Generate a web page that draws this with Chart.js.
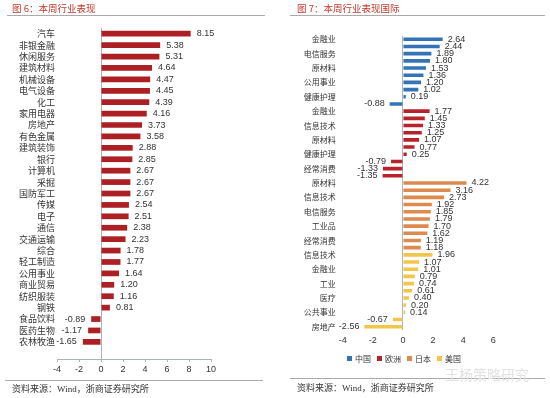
<!DOCTYPE html>
<html lang="zh">
<head>
<meta charset="UTF-8">
<title>本周行业表现</title>
<script src="https://cdn.jsdelivr.net/npm/chart.js@4.4.1/dist/chart.umd.min.js"></script>
<style>
    body { margin: 0; background: #fff; }
    #page { position: relative; width: 550px; height: 398px; overflow: hidden; font-family: "Noto Sans CJK SC", sans-serif; }
    canvas { position: absolute; top: 0; }
    .title { position: absolute; top: 1px; font-size: 9.5px; color: #c0392b; white-space: nowrap; }
    .rule { position: absolute; height: 1px; background: #aaa; }
    .source { position: absolute; font-size: 9px; color: #333; white-space: nowrap; }
    .source b { font-family: "Liberation Serif", serif; font-weight: normal; }
    #legend { position: absolute; top: 353px; left: 347px; font-size: 8px; color: #333; white-space: nowrap; }
    #legend span { display: inline-block; margin-right: 6px; }
    #legend i { display: inline-block; width: 5px; height: 5px; margin-right: 3px; vertical-align: 1px; }
    #mark { position: absolute; left: 445px; top: 364px; font-size: 14px; color: #e2e2e2; white-space: nowrap; }
</style>
</head>
<body>
<div id="page">
    <canvas id="leftChart" width="275" height="398" style="left:0"></canvas>
    <canvas id="rightChart" width="275" height="398" style="left:275px"></canvas>

    <div class="title" style="left:12px">图 6：本周行业表现</div>
    <div class="rule" style="top:15px;left:7px;width:258px"></div>
    <div class="rule" style="top:380px;left:5px;width:258px"></div>
    <div class="source" style="left:12px;top:382px">资料来源：<b>Wind</b>，浙商证券研究所</div>

    <div class="title" style="left:297px">图 7：本周行业表现国际</div>
    <div class="rule" style="top:15px;left:290px;width:255px"></div>
    <div class="rule" style="top:378px;left:290px;width:255px"></div>
    <div class="source" style="left:297px;top:381px">资料来源：<b>Wind</b>，浙商证券研究所</div>

    <div id="legend"></div>
    <div id="mark">王杨策略研究</div>
</div>
<script>
    // 图6 申万行业周涨跌幅
    const industries = ['汽车', '非银金融', '休闲服务', '建筑材料', '机械设备', '电气设备', '化工', '家用电器',
        '房地产', '有色金属', '建筑装饰', '银行', '计算机', '采掘', '国防军工', '传媒', '电子', '通信',
        '交通运输', '综合', '轻工制造', '公用事业', '商业贸易', '纺织服装', '钢铁', '食品饮料', '医药生物', '农林牧渔'];
    const industryChange = [8.15, 5.38, 5.31, 4.64, 4.47, 4.45, 4.39, 4.16, 3.73, 3.58, 2.88, 2.85, 2.67, 2.67,
        2.67, 2.54, 2.51, 2.38, 2.23, 1.78, 1.77, 1.64, 1.20, 1.16, 0.81, -0.89, -1.17, -1.65];
    const leftTicks = [-4, -2, 0, 2, 4, 6, 8, 10];

    // 图7 各地区行业周涨跌幅 (only every other category name is printed)
    const regions = ['中国', '欧洲', '日本', '美国'];
    const regionColors = ['#3573b9', '#b8232b', '#dd8a4e', '#f3c548'];
    const chinaCats = ['金融业', '', '电信服务', '', '原材料', '', '公用事业', '', '健康护理', ''];
    const chinaValues = [2.64, 2.44, 1.89, 1.80, 1.53, 1.36, 1.20, 1.02, 0.19, -0.88];
    const europeCats = ['金融业', '', '信息技术', '', '原材料', '', '健康护理', '', '经常消费', ''];
    const europeValues = [1.77, 1.45, 1.33, 1.25, 1.07, 0.77, 0.25, -0.79, -1.33, -1.35];
    const japanCats = ['原材料', '', '信息技术', '', '电信服务', '', '工业品', '', '经常消费', ''];
    const japanValues = [4.22, 3.16, 2.73, 1.92, 1.85, 1.79, 1.70, 1.62, 1.19, 1.18];
    const usCats = ['信息技术', '', '金融业', '', '工业', '', '医疗', '', '公共事业', '', '房地产'];
    const usValues = [1.96, 1.07, 1.01, 0.79, 0.74, 0.61, 0.40, 0.20, 0.14, -0.67, -2.56];
    const rightTicks = [-4, -2, 0, 2, 4, 6];

    const numFont = '"Liberation Sans", Arial, sans-serif';
    const cjkFont = '"Noto Sans CJK SC", sans-serif';

    // value text at the end of every bar
    const valueLabels = {
        id: 'valueLabels',
        afterDatasetsDraw(chart, args, opts) {
            const ctx = chart.ctx;
            ctx.save();
            ctx.font = opts.size + 'px ' + numFont;
            ctx.fillStyle = '#333';
            ctx.textBaseline = 'middle';
            chart.data.datasets.forEach((ds, i) => {
                chart.getDatasetMeta(i).data.forEach((bar, j) => {
                    let v = ds.data[j];
                    if (v === null || v === undefined) return;
                    if (v >= 0) {
                        ctx.textAlign = 'left';
                        ctx.fillText(v.toFixed(2), bar.x + opts.gap, bar.y);
                    } else {
                        ctx.textAlign = 'right';
                        ctx.fillText(v.toFixed(2), bar.x - opts.gap, bar.y);
                    }
                });
            });
            ctx.restore();
        }
    };

    function zeroLine(color) {
        return c => c.tick && c.tick.value === 0 ? color : 'rgba(0,0,0,0)';
    }

    // left chart
    new Chart(document.getElementById('leftChart'), {
        type: 'bar',
        data: {
            labels: industries,
            datasets: [{
                data: industryChange,
                backgroundColor: '#ac2024',
                barPercentage: 0.5,
                categoryPercentage: 1
            }]
        },
        options: {
            indexAxis: 'y',
            responsive: false,
            animation: false,
            layout: { padding: { top: 28, right: 64, bottom: 23, left: 0 } },
            plugins: {
                legend: { display: false },
                tooltip: { enabled: false },
                valueLabels: { size: 9, gap: 6 }
            },
            scales: {
                x: {
                    min: -4,
                    max: 10,
                    afterBuildTicks: s => { s.ticks = leftTicks.map(v => ({ value: v })); },
                    afterFit: s => { s.height = 16; },
                    grid: { color: zeroLine('#a9b3bd'), tickColor: '#a9b3bd', tickLength: 3 },
                    border: { display: true, color: '#a9b3bd' },
                    ticks: { padding: 2, color: '#333', font: { family: numFont, size: 9 } }
                },
                y: {
                    // leave an empty band under the last bar like the original
                    afterBuildTicks: s => { s._valueRange += 1; },
                    afterFit: s => { s.width = 57; },
                    grid: { display: false, drawTicks: false },
                    border: { display: false },
                    ticks: { autoSkip: false, padding: 2, color: '#333', font: { family: cjkFont, size: 9 } }
                }
            }
        },
        plugins: [valueLabels]
    });

    // right chart: one dataset per region, null outside its own block
    const rightLabels = chinaCats.concat(europeCats, japanCats, usCats);
    const blocks = [chinaValues, europeValues, japanValues, usValues];
    let start = 0;
    const rightSets = blocks.map((vals, k) => {
        let data = rightLabels.map(() => null);
        vals.forEach((v, j) => { data[start + j] = v; });
        start += vals.length;
        return {
            label: regions[k],
            data: data,
            backgroundColor: regionColors[k],
            barPercentage: 0.5,
            categoryPercentage: 1,
            grouped: false
        };
    });

    new Chart(document.getElementById('rightChart'), {
        type: 'bar',
        data: { labels: rightLabels, datasets: rightSets },
        options: {
            indexAxis: 'y',
            responsive: false,
            animation: false,
            layout: { padding: { top: 35.7, right: 56.7, bottom: 51.7, left: 0 } },
            plugins: {
                legend: { display: false },
                tooltip: { enabled: false },
                valueLabels: { size: 9, gap: 5 }
            },
            scales: {
                x: {
                    min: -4,
                    max: 6,
                    afterBuildTicks: s => { s.ticks = rightTicks.map(v => ({ value: v })); },
                    afterFit: s => { s.height = 16; },
                    grid: { color: zeroLine('#a9b8c8'), drawTicks: false },
                    border: { display: false },
                    ticks: { padding: 5, color: '#333', font: { family: numFont, size: 9 } }
                },
                y: {
                    afterFit: s => { s.width = 67.7; },
                    grid: { display: false, drawTicks: false },
                    border: { display: false },
                    ticks: { autoSkip: false, padding: 7, color: '#333', font: { family: cjkFont, size: 8 } }
                }
            }
        },
        plugins: [valueLabels]
    });

    let legend = document.getElementById('legend');
    regions.forEach((r, k) => {
        let item = document.createElement('span');
        item.innerHTML = '<i style="background:' + regionColors[k] + '"></i>' + r;
        legend.appendChild(item);
    });
</script>
</body>
</html>
